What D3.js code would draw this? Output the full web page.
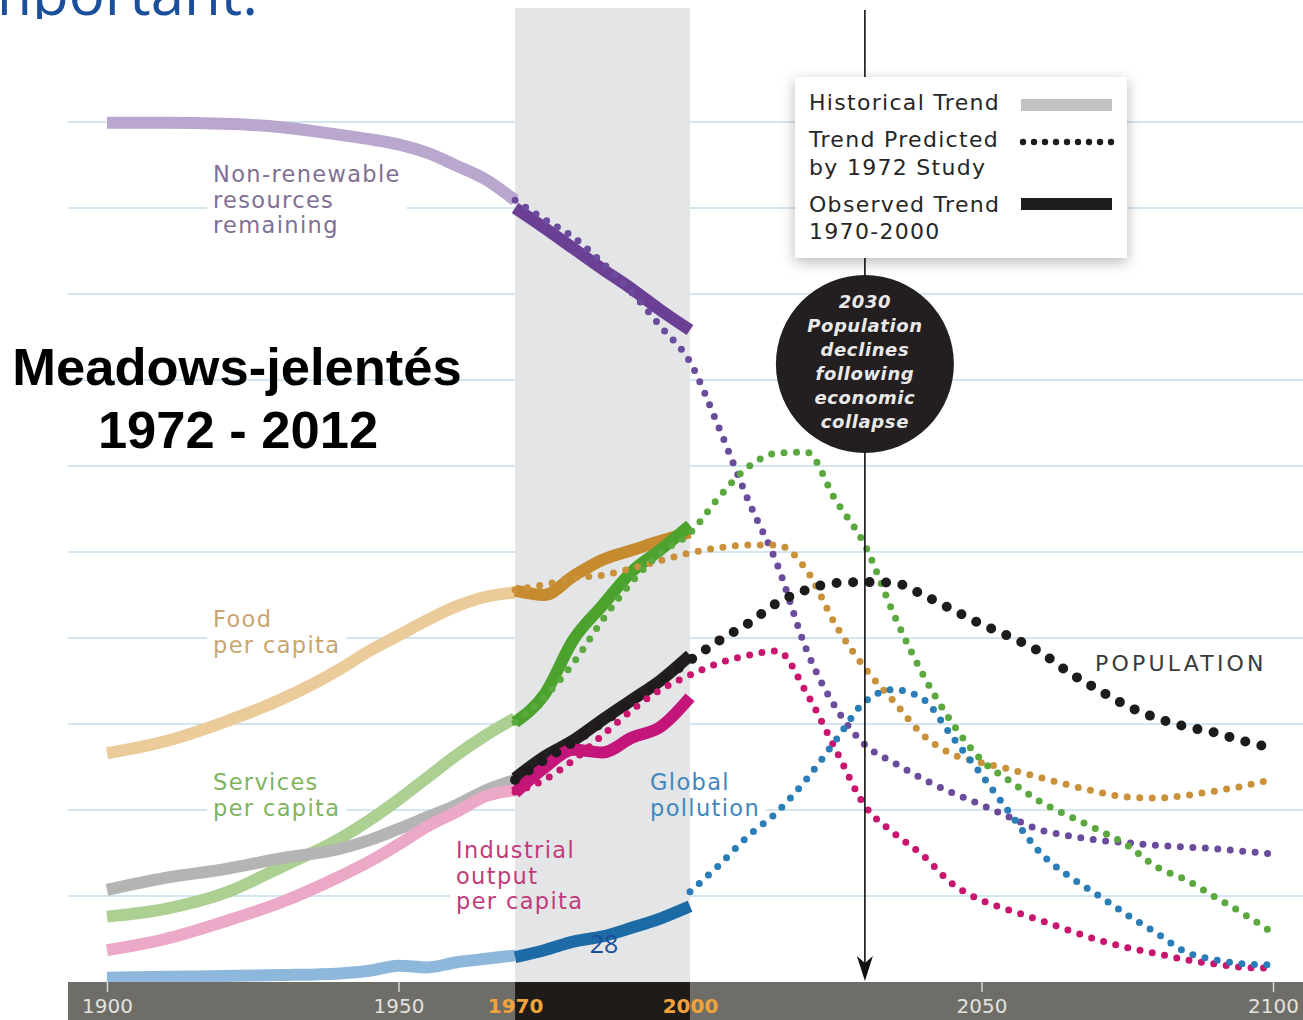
<!DOCTYPE html>
<html>
<head>
<meta charset="utf-8">
<title>Meadows-jelentés 1972 - 2012</title>
<script src="https://cdn.jsdelivr.net/npm/d3@7/dist/d3.min.js"></script>
<style>
  body { margin: 0; background: #fff; }
  svg { display: block; }
</style>
</head>
<body>
<script>
// Width og height
const w = 1303;
const h = 1020;

// Years
const histYears = [1900, 1910, 1920, 1930, 1940, 1945, 1950, 1955, 1960, 1965, 1970];
const obsYears = [1970, 1975, 1980, 1985, 1990, 1995, 2000];
const predYears = [1970, 1975, 1980, 1985, 1990, 1995, 2000, 2005, 2010, 2015, 2020, 2025, 2030,
  2035, 2040, 2045, 2050, 2055, 2060, 2065, 2070, 2075, 2080, 2085, 2090, 2095, 2100];
const gridValues = [10, 20, 30, 40, 50, 60, 70, 80, 90, 100];
const axisYears = [1900, 1950, 1970, 2000, 2050, 2100];

// Values (0 = axis, 100 = top gridline)
const resourcesHist = [99.9, 99.9, 99.8, 99.4, 98.5, 98.0, 97.4, 96.4, 94.9, 93.3, 90.9];
const resourcesObs = [90.0, 87.7, 85.3, 82.9, 80.6, 78.1, 75.8];
const resourcesPred = [90.9, 88.7, 86.6, 83.6, 80.2, 76.2, 72.1, 64.4, 56.0, 48.5, 38.6, 31.9, 27.6,
  25.5, 23.6, 22.0, 20.6, 19.1, 17.7, 17.0, 16.5, 16.2, 15.9, 15.7, 15.5, 15.2, 14.9];

const foodHist = [26.6, 28.0, 30.2, 32.9, 36.4, 38.5, 40.3, 42.1, 43.7, 44.8, 45.3];
const foodObs = [45.5, 45.0, 47.2, 49.1, 50.2, 51.3, 52.3];
const foodPred = [45.6, 46.2, 47.0, 47.3, 48.1, 49.0, 49.9, 50.5, 50.8, 50.8, 47.9, 41.5, 36.5,
  32.6, 28.7, 26.5, 25.5, 24.7, 23.8, 22.9, 22.1, 21.5, 21.4, 21.7, 22.2, 22.8, 23.6];

const servicesHist = [7.6, 8.5, 10.3, 13.4, 16.7, 18.8, 21.2, 23.8, 26.4, 28.7, 30.7];
const servicesObs = [30.2, 33.4, 39.8, 43.8, 47.7, 50.3, 53.1];
const servicesPred = [30.2, 33.1, 37.1, 42.1, 46.5, 49.9, 52.2, 56.4, 59.9, 61.5, 61.6, 56.0, 50.8,
  42.7, 35.7, 30.1, 25.8, 23.3, 21.0, 19.3, 17.7, 15.9, 13.4, 11.9, 9.9, 7.9, 5.7];

const populationHist = [10.7, 12.1, 13.1, 14.4, 15.5, 16.5, 17.8, 19.2, 20.6, 22.3, 23.5];
const populationObs = [23.7, 26.2, 28.1, 30.5, 32.8, 35.1, 38.0];
const populationPred = [23.5, 25.8, 27.9, 30.2, 32.6, 35.0, 37.4, 39.7, 41.7, 44.1, 45.6, 46.4, 46.5,
  46.4, 45.0, 43.3, 41.6, 40.1, 38.4, 36.0, 34.0, 32.1, 30.7, 29.7, 29.0, 28.0, 27.2];

const industryHist = [3.7, 5.0, 7.0, 9.3, 12.3, 14.0, 16.0, 18.1, 19.8, 21.6, 22.3];
const industryObs = [22.0, 24.9, 27.0, 26.7, 28.4, 29.7, 33.1];
const industryPred = [22.1, 23.5, 25.8, 28.7, 31.6, 34.0, 35.7, 37.1, 38.0, 38.5, 33.6, 27.0, 20.5,
  17.3, 14.7, 11.4, 9.5, 8.3, 7.2, 6.0, 4.9, 4.0, 3.3, 2.6, 2.1, 1.7, 1.6];

const pollutionHist = [0.5, 0.6, 0.7, 0.8, 1.0, 1.3, 1.9, 1.7, 2.3, 2.7, 3.1];
const pollutionObs = [2.9, 3.7, 4.7, 5.3, 6.3, 7.4, 8.8];
const pollutionPred = [null, null, null, null, null, null, 10.5, 13.6, 17.0, 19.8, 23.6, 28.1, 32.6,
  34.0, 32.9, 28.5, 24.1, 19.5, 15.1, 12.3, 10.1, 7.8, 5.7, 3.5, 2.6, 2.1, 2.0];

// Series table med farver
const series = [
  { hist: resourcesHist, obs: resourcesObs, pred: resourcesPred, light: "#b9a7ce", dark: "#6a3f94", dot: "#6b4c9c", big: false },
  { hist: foodHist, obs: foodObs, pred: foodPred, light: "#ebcb99", dark: "#c68b2e", dot: "#c8913a", big: false },
  { hist: servicesHist, obs: servicesObs, pred: servicesPred, light: "#abd091", dark: "#4ba22d", dot: "#5aa83e", big: false },
  { hist: populationHist, obs: populationObs, pred: populationPred, light: "#b4b4b4", dark: "#231f20", dot: "#1d1b1b", big: true },
  { hist: industryHist, obs: industryObs, pred: industryPred, light: "#eca8c7", dark: "#c3157a", dot: "#c8166f", big: false },
  { hist: pollutionHist, obs: pollutionObs, pred: pollutionPred, light: "#8eb7dc", dark: "#1c6aa6", dot: "#2a7db7", big: false }
];

// Scale-funktioner
const x = d3.scaleLinear().domain([1900, 2100]).range([107, 1273]);
const y = d3.scaleLinear().domain([0, 100]).range([982, 122]);

const line = d3.line()
  .defined(d => d[1] != null)
  .x(d => x(d[0]))
  .y(d => y(d[1]))
  .curve(d3.curveMonotoneX);

const svg = d3.select("body").append("svg")
  .attr("width", w)
  .attr("height", h)
  .style("font-family", "'DejaVu Sans', sans-serif");

const defs = svg.append("defs");
const shadow = defs.append("filter").attr("id", "shadow")
  .attr("x", "-20%").attr("y", "-20%").attr("width", "140%").attr("height", "150%");
shadow.append("feDropShadow")
  .attr("dx", 0).attr("dy", 4).attr("stdDeviation", 7)
  .attr("flood-color", "#000").attr("flood-opacity", 0.28);
// slide-teksten øverst er beskåret i billedet
defs.append("clipPath").attr("id", "topclip")
  .append("rect").attr("x", 0).attr("y", 0).attr("width", w).attr("height", 19);

// Lag
const gridLayer = svg.append("g");
const labelBgLayer = svg.append("g");
const bandLayer = svg.append("g");
const lineLayer = svg.append("g");
const axisLayer = svg.append("g");
const textLayer = svg.append("g");

// Gridlines
gridLayer.selectAll("line")
  .data(gridValues)
  .enter().append("line")
  .attr("x1", 68).attr("x2", w)
  .attr("y1", d => y(d)).attr("y2", d => y(d))
  .attr("stroke", "#d3e5ef")
  .attr("stroke-width", 2);

// Grå bånd 1970-2000
bandLayer.append("rect")
  .attr("x", x(1970)).attr("width", x(2000) - x(1970))
  .attr("y", 8).attr("height", y(0) - 8)
  .attr("fill", "#e4e5e7");

// Historiske linjer
series.forEach(s => {
  lineLayer.append("path")
    .attr("d", line(histYears.map((yr, i) => [yr, s.hist[i]])))
    .attr("fill", "none")
    .attr("stroke", s.light)
    .attr("stroke-width", 12);
});

// Observerede linjer
series.forEach(s => {
  lineLayer.append("path")
    .attr("d", line(obsYears.map((yr, i) => [yr, s.obs[i]])))
    .attr("fill", "none")
    .attr("stroke", s.dark)
    .attr("stroke-width", 12);
});

// Forudsagte (prikkede) linjer
series.forEach(s => {
  lineLayer.append("path")
    .attr("d", line(predYears.map((yr, i) => [yr, s.pred[i]])))
    .attr("fill", "none")
    .attr("stroke", s.dot)
    .attr("stroke-width", s.big ? 10 : 7)
    .attr("stroke-linecap", "round")
    .attr("stroke-dasharray", s.big ? "0 16.5" : "0 12.5");
});

// Pil ved 2030
const ax = x(2030);
lineLayer.append("line")
  .attr("x1", ax).attr("x2", ax)
  .attr("y1", 10).attr("y2", 972)
  .attr("stroke", "#111").attr("stroke-width", 1.6);
lineLayer.append("path")
  .attr("d", `M${ax},981 L${ax - 8},956 L${ax},963 L${ax + 8},956 Z`)
  .attr("fill", "#111");

// X-akse
axisLayer.append("rect")
  .attr("x", 68).attr("y", y(0))
  .attr("width", w - 68).attr("height", h - y(0))
  .attr("fill", "#6e6d67");
axisLayer.append("rect")
  .attr("x", x(1970)).attr("y", y(0))
  .attr("width", x(2000) - x(1970)).attr("height", h - y(0))
  .attr("fill", "#1e1b19");

const xAxis = d3.axisBottom(x).tickValues(axisYears).tickFormat(d3.format("d")).tickSize(10);
const axisG = axisLayer.append("g")
  .attr("transform", "translate(0," + y(0) + ")")
  .call(xAxis);
axisG.select(".domain").remove();
axisG.selectAll(".tick line")
  .attr("stroke", d => (d === 1970 || d === 2000) ? "none" : "#d9d9d6")
  .attr("stroke-width", 1.5);
axisG.selectAll(".tick text")
  .attr("y", 31).attr("dy", 0)
  .style("font-family", "'DejaVu Sans', sans-serif")
  .style("font-size", "20px")
  .style("font-weight", d => (d === 1970 || d === 2000) ? "bold" : "normal")
  .attr("fill", d => (d === 1970 || d === 2000) ? "#f0a33a" : "#e2e2df");

// Serie-etiketter
const labels = [
  { lines: ["Non-renewable", "resources", "remaining"], x: 213, y: 182, color: "#7f6f93" },
  { lines: ["Food", "per capita"], x: 213, y: 627, color: "#c9a56c" },
  { lines: ["Services", "per capita"], x: 213, y: 790, color: "#7fb35c" },
  { lines: ["Industrial", "output", "per capita"], x: 456, y: 858, color: "#c23a7b" },
  { lines: ["Global", "pollution"], x: 650, y: 790, color: "#3f87bd" }
];
labels.forEach(l => {
  const t = textLayer.append("text")
    .attr("x", l.x).attr("y", l.y)
    .attr("fill", l.color)
    .style("font-size", "22.5px")
    .style("letter-spacing", "1.35px");
  l.lines.forEach((s, i) => {
    t.append("tspan").attr("x", l.x).attr("dy", i === 0 ? 0 : 25.5).text(s);
  });
  const b = t.node().getBBox();
  labelBgLayer.append("rect")
    .attr("x", b.x - 6).attr("y", b.y - 2)
    .attr("width", b.width + 12).attr("height", b.height + 4)
    .attr("fill", "#fff");
});

textLayer.append("text")
  .attr("x", 1095).attr("y", 671)
  .attr("fill", "#3a3a3a")
  .style("font-size", "22px")
  .style("letter-spacing", "3.2px")
  .text("POPULATION");

// Legend
const legend = textLayer.append("g");
legend.append("rect")
  .attr("x", 795).attr("y", 77)
  .attr("width", 332).attr("height", 181)
  .attr("fill", "#fff")
  .attr("filter", "url(#shadow)");
const legendText = [
  { t: "Historical Trend", y: 110 },
  { t: "Trend Predicted", y: 147 },
  { t: "by 1972 Study", y: 175 },
  { t: "Observed Trend", y: 212 },
  { t: "1970-2000", y: 239 }
];
legend.selectAll("text.lg")
  .data(legendText)
  .enter().append("text")
  .attr("class", "lg")
  .attr("x", 809).attr("y", d => d.y)
  .attr("fill", "#262626")
  .style("font-size", "22px")
  .style("letter-spacing", "1.3px")
  .text(d => d.t);
legend.append("rect")
  .attr("x", 1021).attr("y", 99).attr("width", 91).attr("height", 12)
  .attr("fill", "#c2c2c2");
legend.append("rect")
  .attr("x", 1021).attr("y", 198).attr("width", 91).attr("height", 12)
  .attr("fill", "#1e1c1c");
legend.selectAll("circle")
  .data(d3.range(9))
  .enter().append("circle")
  .attr("cx", i => 1023 + i * 11).attr("cy", 142)
  .attr("r", 3.2)
  .attr("fill", "#1e1c1c");

// Cirkel med 2030-tekst
textLayer.append("circle")
  .attr("cx", ax).attr("cy", 364).attr("r", 89)
  .attr("fill", "#231f20");
const circleLines = ["2030", "Population", "declines", "following", "economic", "collapse"];
textLayer.selectAll("text.cl")
  .data(circleLines)
  .enter().append("text")
  .attr("class", "cl")
  .attr("x", ax).attr("y", (d, i) => 308 + i * 24)
  .attr("text-anchor", "middle")
  .attr("fill", "#e9e9e9")
  .style("font-size", "18px")
  .style("font-weight", "bold")
  .style("font-style", "italic")
  .style("letter-spacing", "0.6px")
  .text(d => d);

// Titel
textLayer.append("text")
  .attr("x", 237).attr("y", 385)
  .attr("text-anchor", "middle")
  .style("font-family", "'Liberation Sans', Arial, sans-serif")
  .style("font-size", "52.5px").style("font-weight", "bold")
  .attr("fill", "#000")
  .text("Meadows-jelentés");
textLayer.append("text")
  .attr("x", 238).attr("y", 448)
  .attr("text-anchor", "middle")
  .style("font-family", "'Liberation Sans', Arial, sans-serif")
  .style("font-size", "52.5px").style("font-weight", "bold")
  .attr("fill", "#000")
  .text("1972 - 2012");

// Rest af slide-tekst
textLayer.append("text")
  .attr("x", 258).attr("y", 15)
  .attr("text-anchor", "end")
  .attr("clip-path", "url(#topclip)")
  .style("font-family", "'Open Sans', sans-serif")
  .style("font-size", "60px")
  .attr("fill", "#1b4e9b")
  .text("important.");
textLayer.append("text")
  .attr("x", 604).attr("y", 953)
  .attr("text-anchor", "middle")
  .style("font-family", "'Open Sans', sans-serif")
  .style("font-size", "25px")
  .attr("fill", "#1b4e9b")
  .text("28");
</script>
</body>
</html>
